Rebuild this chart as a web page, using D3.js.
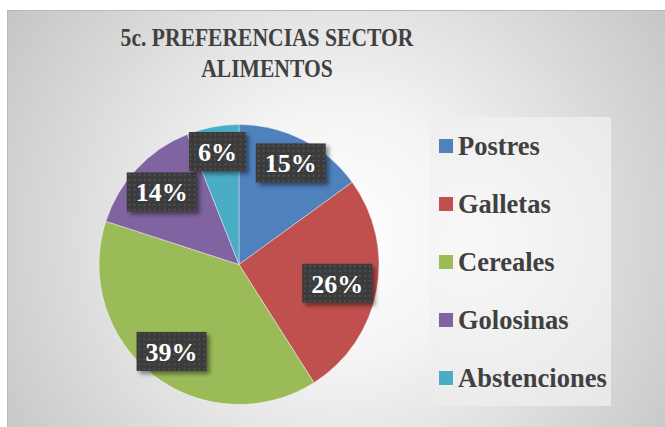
<!DOCTYPE html>
<html>
<head>
<meta charset="utf-8">
<script src="https://cdn.jsdelivr.net/npm/d3@7"></script>
<style>
  html, body { margin: 0; padding: 0; background: #ffffff; }
  svg { display: block; }
</style>
</head>
<body>
<svg id="chart" width="665" height="427"></svg>
<script>
// ---- data ----
const titleLines = ["5c. PREFERENCIAS SECTOR", "ALIMENTOS"];
const categories = ["Postres", "Galletas", "Cereales", "Golosinas", "Abstenciones"];
const values = [15, 26, 39, 14, 6];
const colors = ["#4F81BD", "#C0504D", "#9BBB59", "#8064A2", "#4BACC6"];

// ---- layout ----
const W = 665, H = 427;
const FONT = '"Liberation Serif"';
const svg = d3.select("#chart");
const defs = svg.append("defs");

const bg = defs.append("radialGradient").attr("id", "bg")
  .attr("gradientUnits", "userSpaceOnUse")
  .attr("cx", 340).attr("cy", 235).attr("r", 420);
bg.append("stop").attr("offset", "0%").attr("stop-color", "#ffffff");
bg.append("stop").attr("offset", "30%").attr("stop-color", "#f4f4f4");
bg.append("stop").attr("offset", "100%").attr("stop-color", "#c2c2c2");

const lg = defs.append("radialGradient").attr("id", "lg")
  .attr("gradientUnits", "userSpaceOnUse")
  .attr("cx", 470).attr("cy", 240).attr("r", 200);
lg.append("stop").attr("offset", "0%").attr("stop-color", "#f8f8f8");
lg.append("stop").attr("offset", "100%").attr("stop-color", "#e9e9e9");

const pat = defs.append("pattern").attr("id", "dots")
  .attr("patternUnits", "userSpaceOnUse").attr("width", 5).attr("height", 5);
pat.append("rect").attr("width", 5).attr("height", 5).attr("fill", "#3a3a3a");
pat.append("rect").attr("x", 2).attr("y", 2).attr("width", 1.6).attr("height", 1.6).attr("fill", "#5a5a5a");

const sh = defs.append("filter").attr("id", "shadow")
  .attr("x", "-30%").attr("y", "-30%").attr("width", "160%").attr("height", "160%");
sh.append("feDropShadow").attr("dx", 3).attr("dy", 3).attr("stdDeviation", 2)
  .attr("flood-color", "#000").attr("flood-opacity", 0.45);

svg.append("rect").attr("x", 7.5).attr("y", 10.5).attr("width", W - 7).attr("height", H - 10)
  .attr("fill", "url(#bg)").attr("stroke", "#b8b8b8").attr("stroke-width", 1);

// title
const title = svg.append("g");
titleLines.forEach((t, i) => {
  const el = title.append("text")
    .attr("x", 267).attr("y", 46 + i * 31)
    .attr("text-anchor", "middle")
    .style("font-family", FONT).style("font-weight", "bold").style("font-size", "26px")
    .attr("fill", "#404040")
    .text(t);
  const len = el.node().getComputedTextLength();
  el.attr("textLength", len * 0.83).attr("lengthAdjust", "spacingAndGlyphs");
});

// pie
const cx = 239, cy = 264.5, R = 140;
const pie = d3.pie().sort(null).value(d => d)(values);
const arc = d3.arc().innerRadius(0).outerRadius(R);
const g = svg.append("g").attr("transform", `translate(${cx},${cy})`);
g.selectAll("path").data(pie).join("path")
  .attr("d", arc)
  .attr("fill", (d, i) => colors[i])
  .attr("stroke", "#ffffff").attr("stroke-width", 0.4);

// labels
const total = d3.sum(values);
const labelR = [114, 100, 110, 106, 115];
pie.forEach((d, i) => {
  const a = (d.startAngle + d.endAngle) / 2;
  const lx = Math.sin(a) * labelR[i], ly = -Math.cos(a) * labelR[i];
  const lab = g.append("g").attr("transform", `translate(${lx},${ly})`);
  const rect = lab.append("rect").attr("fill", "url(#dots)").attr("filter", "url(#shadow)");
  const txt = lab.append("text")
    .attr("text-anchor", "middle").attr("y", 9.5)
    .style("font-family", FONT).style("font-weight", "bold").style("font-size", "26px")
    .attr("fill", "#ffffff")
    .text(Math.round(values[i] / total * 100) + "%");
  const w = txt.node().getComputedTextLength() + 18;
  rect.attr("x", -w / 2).attr("y", -19.5).attr("width", w).attr("height", 39);
});

// legend
const leg = svg.append("g");
leg.append("rect").attr("x", 430).attr("y", 117).attr("width", 181).attr("height", 289)
  .attr("fill", "url(#lg)");
categories.forEach((c, i) => {
  const y = 146 + i * 58;
  leg.append("rect").attr("x", 439).attr("y", y - 7).attr("width", 14).attr("height", 14)
    .attr("fill", colors[i]);
  leg.append("text").attr("x", 458).attr("y", y + 9)
    .style("font-family", FONT).style("font-weight", "bold").style("font-size", "26.5px")
    .attr("fill", "#404040")
    .text(c);
});
</script>
</body>
</html>
